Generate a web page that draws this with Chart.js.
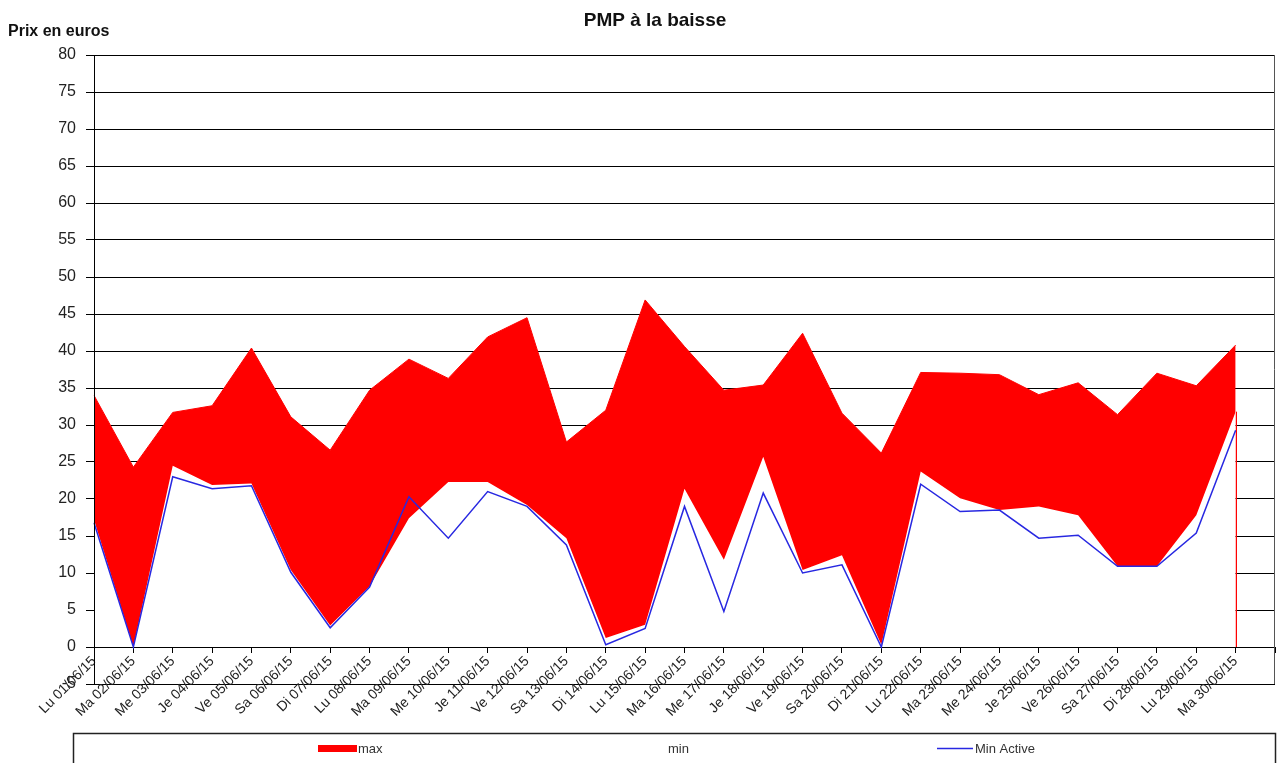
<!DOCTYPE html>
<html>
<head>
<meta charset="utf-8">
<title>PMP à la baisse</title>
<script src="https://cdn.jsdelivr.net/npm/chart.js@4.4.1/dist/chart.umd.min.js"></script>
<style>
	html, body { margin: 0; padding: 0; background: #fff; }
	#wrap { width: 1281px; height: 763px; position: relative; }
</style>
</head>
<body>
<div id="wrap"><canvas id="pmpChart" width="1281" height="763"></canvas></div>
<script>
// jours du mois de juin
var jours = [ 'Lu 01/06/15', 'Ma 02/06/15', 'Me 03/06/15', 'Je 04/06/15', 'Ve 05/06/15',
		'Sa 06/06/15', 'Di 07/06/15', 'Lu 08/06/15', 'Ma 09/06/15', 'Me 10/06/15',
		'Je 11/06/15', 'Ve 12/06/15', 'Sa 13/06/15', 'Di 14/06/15', 'Lu 15/06/15',
		'Ma 16/06/15', 'Me 17/06/15', 'Je 18/06/15', 'Ve 19/06/15', 'Sa 20/06/15',
		'Di 21/06/15', 'Lu 22/06/15', 'Ma 23/06/15', 'Me 24/06/15', 'Je 25/06/15',
		'Ve 26/06/15', 'Sa 27/06/15', 'Di 28/06/15', 'Lu 29/06/15', 'Ma 30/06/15' ];

var maxPrix = [ 34.0, 24.3, 31.7, 32.6, 40.4, 31.1, 26.6, 34.7, 38.9, 36.3,
		41.9, 44.5, 27.7, 32.0, 46.9, 40.6, 34.7, 35.4, 42.4, 31.6,
		26.2, 37.1, 37.0, 36.8, 34.1, 35.7, 31.4, 37.0, 35.3, 40.8 ];

var minPrix = [ 17.2, 0, 24.5, 21.9, 22.1, 10.4, 2.9, 8.2, 17.4, 22.3,
		22.3, 19.2, 14.7, 1.2, 3.0, 21.4, 11.8, 25.7, 10.4, 12.4,
		0.3, 23.7, 20.1, 18.5, 19.0, 17.8, 10.9, 10.9, 17.8, 31.8 ];

var minActive = [ 16.8, 0, 23.0, 21.4, 21.8, 10.1, 2.6, 8.1, 20.3, 14.7,
		21.0, 19.0, 13.8, 0.3, 2.5, 19.0, 4.8, 20.8, 10.0, 11.1,
		0, 22.0, 18.3, 18.5, 14.7, 15.1, 10.9, 10.9, 15.4, 29.3 ];

var yMin = -5;
var yMax = 80;
var yPas = 5;

var police = '"Liberation Sans", Arial, sans-serif';
var rouge = '#ff0000';
var bleu = 'rgb(40, 40, 225)';

// une categorie vide au bout, comme dans Excel
var categories = jours.concat([ '' ]);

// titres, cadre et legende
var decorPlugin = {
	id : 'decor',
	afterDatasetsDraw : function(chart) {
		var ctx = chart.ctx;
		var area = chart.chartArea;
		var x = chart.scales.x;
		var y = chart.scales.y;
		var last = jours.length - 1;
		ctx.save();
		// trait rouge vertical a la fin de la zone
		ctx.strokeStyle = rouge;
		ctx.lineWidth = 1;
		var xl = Math.round(x.getPixelForValue(last)) + 0.5;
		ctx.beginPath();
		ctx.moveTo(xl, y.getPixelForValue(minPrix[last]));
		ctx.lineTo(xl, y.getPixelForValue(0));
		ctx.stroke();
		// axe vertical et bord droit
		ctx.strokeStyle = '#000';
		ctx.beginPath();
		ctx.moveTo(area.left + 0.5, area.top);
		ctx.lineTo(area.left + 0.5, area.bottom);
		ctx.stroke();
		ctx.strokeStyle = '#555';
		ctx.beginPath();
		ctx.moveTo(area.right - 0.5, area.top);
		ctx.lineTo(area.right - 0.5, area.bottom);
		ctx.stroke();
		ctx.restore();
	},
	afterDraw : function(chart) {
		var ctx = chart.ctx;
		ctx.save();
		ctx.fillStyle = '#111';
		ctx.textBaseline = 'alphabetic';
		ctx.font = 'bold 19px ' + police;
		ctx.textAlign = 'center';
		ctx.fillText('PMP à la baisse', 655, 26);
		ctx.font = 'bold 16px ' + police;
		ctx.textAlign = 'left';
		ctx.fillText('Prix en euros', 8, 36);

		// legende
		ctx.strokeStyle = '#222';
		ctx.lineWidth = 1.5;
		ctx.strokeRect(73.5, 733.5, 1202, 40);
		ctx.font = '13px ' + police;
		ctx.textBaseline = 'middle';
		ctx.fillStyle = rouge;
		ctx.fillRect(318, 745, 39, 7);
		ctx.fillStyle = '#333';
		ctx.fillText('max', 358, 749);
		ctx.fillText('min', 668, 749);
		ctx.strokeStyle = bleu;
		ctx.lineWidth = 1.5;
		ctx.beginPath();
		ctx.moveTo(937, 748.5);
		ctx.lineTo(973, 748.5);
		ctx.stroke();
		ctx.fillText('Min Active', 975, 749);
		ctx.restore();
	}
};

var ctx1 = document.getElementById('pmpChart').getContext('2d');
var pmpChart = new Chart(ctx1, {
	type : 'line',
	data : {
		labels : categories,
		datasets : [ {
			label : 'Min Active',
			data : minActive,
			borderColor : bleu,
			borderWidth : 1.5,
			pointRadius : 0,
			fill : false,
			order : 1
		}, {
			label : 'min',
			data : minPrix,
			borderColor : 'rgba(255,255,255,0)',
			borderWidth : 1,
			backgroundColor : '#ffffff',
			pointRadius : 0,
			fill : 'origin',
			order : 2
		}, {
			label : 'max',
			data : maxPrix,
			borderColor : rouge,
			borderWidth : 1,
			backgroundColor : rouge,
			pointRadius : 0,
			fill : 'origin',
			order : 3
		} ]
	},
	options : {
		responsive : false,
		animation : false,
		layout : {
			padding : { top : 55, left : 0, right : 6, bottom : 79 }
		},
		plugins : {
			legend : { display : false },
			title : { display : false },
			tooltip : { enabled : false }
		},
		scales : {
			x : {
				position : { y : 0 },
				z : 1,
				offset : false,
				// pas de marge pour les libelles penches
				afterFit : function(scale) {
					scale.paddingLeft = 0;
					scale.paddingRight = 0;
				},
				grid : {
					drawOnChartArea : false,
					color : '#000',
					tickLength : 5
				},
				border : { color : '#000', width : 1 },
				ticks : {
					autoSkip : false,
					minRotation : 45,
					maxRotation : 45,
					padding : 1,
					color : '#222',
					font : { family : police, size : 14 }
				}
			},
			y : {
				min : yMin,
				max : yMax,
				afterFit : function(scale) {
					scale.width = 94;
				},
				grid : {
					color : '#000',
					lineWidth : 1,
					tickLength : 8
				},
				border : { color : '#000' },
				ticks : {
					stepSize : yPas,
					padding : 10,
					color : '#222',
					font : { family : police, size : 16 }
				}
			}
		}
	},
	plugins : [ decorPlugin ]
});
</script>
</body>
</html>
